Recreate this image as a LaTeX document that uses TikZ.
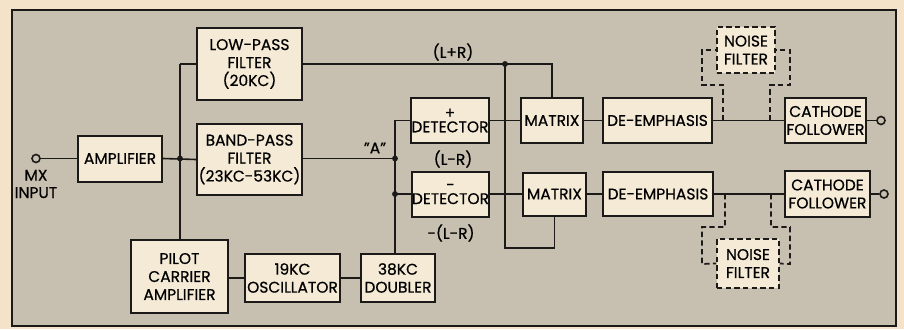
\documentclass[tikz,border=0pt]{standalone}
\usepackage{fontspec}
\setmainfont{Poppins}[FakeBold=0.6]
\usetikzlibrary{shadows}
\definecolor{paper}{HTML}{F4E3C9}
\definecolor{panel}{HTML}{C7BFAF}
\definecolor{boxfill}{HTML}{F4EAD6}
\definecolor{ink}{HTML}{1C1A18}
\tikzset{
  sz/.style 2 args={minimum width=#1*0.75pt, minimum height=#2*0.75pt},
  bx/.style={draw=ink, line width=1.5pt, fill=boxfill, inner sep=0pt, align=center,
     font=\fontsize{11.6}{13.5}\selectfont,
     drop shadow={shadow xshift=1pt, shadow yshift=-1pt, fill=ink, opacity=1}},
  dbx/.style={draw=ink, line width=1.3pt, dash pattern=on 4pt off 2.5pt, fill=boxfill, inner sep=0pt,
     align=center, font=\fontsize{11.6}{13.5}\selectfont},
  wire/.style={draw=ink, line width=1.2pt},
  dwire/.style={draw=ink, line width=1.3pt, dash pattern=on 4pt off 2.5pt},
  lbl/.style={font=\fontsize{11.6}{13}\selectfont, inner sep=0pt},
  term/.style={circle, draw=ink, line width=1.2pt, fill=panel, inner sep=0pt, minimum size=6pt}
}
\begin{document}
\begin{tikzpicture}[x=0.75pt, y=-0.75pt]
\useasboundingbox (0,0) rectangle (904,329);
\fill[paper] (0,0) rectangle (904,329);
\filldraw[fill=panel, draw=ink, line width=2pt] (12,10) rectangle (896,326);

% boxes
\node[bx, sz={84}{46}] (amp) at (120,158.5) {AMPLIFIER};
\node[bx, sz={105}{72}] (lpf) at (249.5,64) {LOW-PASS\\FILTER\\(20KC)};
\node[bx, sz={105}{71}] (bpf) at (249.5,159.5) {BAND-PASS\\FILTER\\(23KC-53KC)};
\node[bx, sz={74}{45}] (detp) at (450,120.5) {+\\[-3pt]DETECTOR};
\node[bx, sz={75}{45}] (detm) at (450.5,194) {-\\[-3pt]DETECTOR};
\node[bx, sz={62}{45}] (mat1) at (552,120.5) {MATRIX};
\node[bx, sz={63}{43}] (mat2) at (554.5,194) {MATRIX};
\node[bx, sz={109}{45}] (de1) at (657.5,120.5) {DE-EMPHASIS};
\node[bx, sz={110}{44}] (de2) at (658,194) {DE-EMPHASIS};
\node[bx, sz={81}{45}] (cf1) at (825.5,120.5) {CATHODE\\FOLLOWER};
\node[bx, sz={85}{46}] (cf2) at (827.5,194) {CATHODE\\FOLLOWER};
\node[dbx, sz={58}{46}] (nf1) at (746,50) {NOISE\\FILTER};
\node[dbx, sz={62}{49}] (nf2) at (748,263.5) {NOISE\\FILTER};
\node[bx, sz={97}{73}] (pca) at (179.5,276.5) {PILOT\\CARRIER\\AMPLIFIER};
\node[bx, sz={95}{48}] (osc) at (292.5,278) {19KC\\OSCILLATOR};
\node[bx, sz={74}{48}] (dbl) at (398,278) {38KC\\DOUBLER};

% terminals
\node[term] (in) at (36,158.5) {};
\node[lbl, align=center, font=\fontsize{11.6}{13}\selectfont] (inlbl) at (36,184) {MX\\INPUT};
\node[term] (out1) at (881,120.5) {};
\node[term] (out2) at (884,194) {};

% junctions
\coordinate (j1) at (180,158.5);
\coordinate (j1t) at (180,64);
\coordinate (jL) at (505,64);
\coordinate (jLb) at (505,248);
\coordinate (jLc) at (554.5,248);
\coordinate (jA) at (395,158.5);
\coordinate (jAt) at (395,120.5);
\coordinate (jB) at (395,194);

% wires
\draw[wire] (in) -- (amp.west);
\draw[wire] (amp.east) -- (bpf.west);
\draw[wire] (j1t) -- (pca.north -| j1);
\draw[wire] (j1t) -- (lpf.west);
\draw[wire] (lpf.east) -- (jL) -- (jL -| mat1.north) -- (mat1.north);
\draw[wire] (jL) -- (jLb) -- (jLc) -- (mat2.south);
\draw[wire] (bpf.east |- jA) -- (jA);
\draw[wire] (detp.west) -- (jAt) -- (jAt |- dbl.north);
\draw[wire] (jB) -- (detm.west);
\draw[wire] (detp.east) -- (mat1.west);
\draw[wire] (detm.east) -- (mat2.west);
\draw[wire] (mat1.east) -- (de1.west);
\draw[wire] (mat2.east) -- (de2.west);
\draw[wire] (de1.east) -- (cf1.west);
\draw[wire] (de2.east) -- (cf2.west);
\draw[wire] (cf1.east) -- (out1);
\draw[wire] (cf2.east) -- (out2);
\draw[wire] (pca.east |- osc) -- (osc.west);
\draw[wire] (osc.east) -- (dbl.west);

% dashed noise filter links
\draw[dwire] (723,120.5) -- (723,85) -- (702,85) -- (702,50) -- (nf1.west);
\draw[dwire] (770,120.5) -- (770,85) -- (790,85) -- (790,50) -- (nf1.east);
\draw[dwire] (725,194) -- (725,227) -- (702,227) -- (702,264) -- (nf2.west);
\draw[dwire] (771,194) -- (771,227) -- (790,227) -- (790,264) -- (nf2.east);

% dots
\foreach \p in {j1,jL,jA,jB} \fill[ink] (\p) circle (2.2pt);

% labels
\node[lbl] (lplus) at (453,52) {(L+R)};
\node[lbl] (lA) at (375,148) {\symbol{34}A\symbol{34}};
\node[lbl] (lminus) at (453,159) {(L-R)};
\node[lbl] (lnminus) at (451,233) {-(L-R)};
\end{tikzpicture}
\end{document}
